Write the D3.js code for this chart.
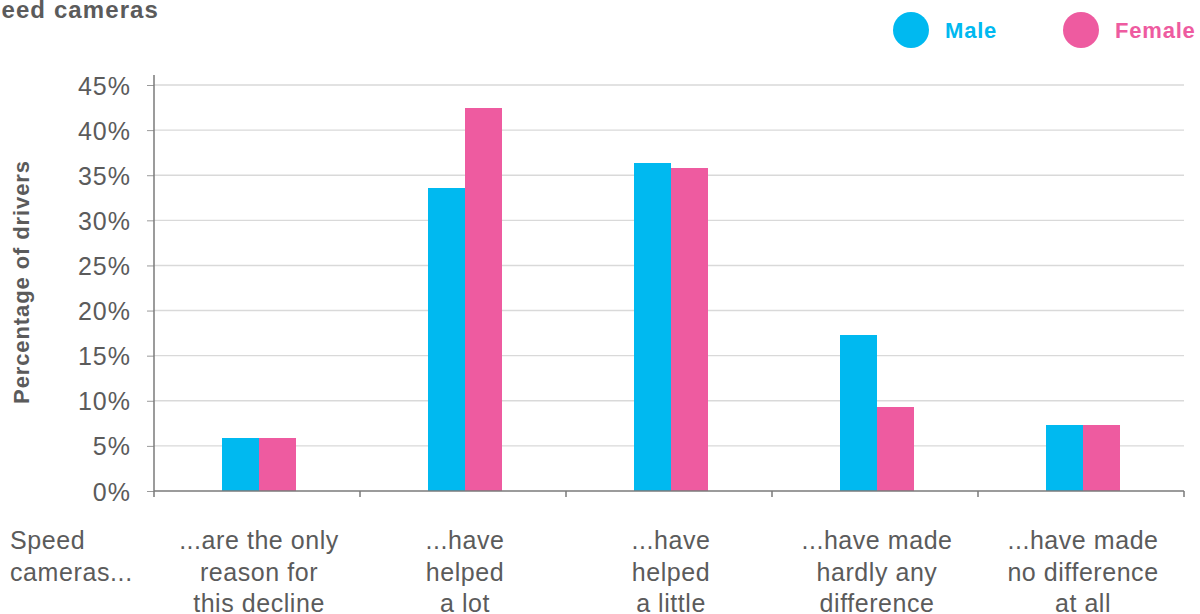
<!DOCTYPE html>
<html>
<head>
<meta charset="utf-8">
<script src="https://cdn.jsdelivr.net/npm/d3@7"></script>
<style>
  html, body { margin: 0; padding: 0; background: #fff; }
  svg { display: block; font-family: "Liberation Sans", Arial, Helvetica, sans-serif; }
</style>
</head>
<body>
<svg id="chart" width="1200" height="614"></svg>
<script>
// Share of drivers by view on speed cameras, split by gender
const categories = [
  ["...are the only", "reason for", "this decline"],
  ["...have", "helped", "a lot"],
  ["...have", "helped", "a little"],
  ["...have made", "hardly any", "difference"],
  ["...have made", "no difference", "at all"]
];
const seriesNames = ["Male", "Female"];
const maleValues = [5.9, 33.6, 36.4, 17.3, 7.3];
const femaleValues = [5.9, 42.5, 35.8, 9.3, 7.3];
const yTicks = [0, 5, 10, 15, 20, 25, 30, 35, 40, 45];
const colors = { Male: "#00B9F0", Female: "#EE5BA0" };

const textGrey = "#5b5b5b";
const svg = d3.select("#chart");
const margin = { left: 154, right: 1184, top: 75, bottom: 491 };

const x0 = d3.scaleBand()
  .domain(d3.range(categories.length))
  .range([margin.left, margin.right])
  .paddingInner(0)
  .paddingOuter(0);

const x1 = d3.scaleBand()
  .domain(seriesNames)
  .range([0, x0.bandwidth()])
  .paddingInner(0)
  .paddingOuter(1.82);

const y = d3.scaleLinear()
  .domain([0, 45])
  .range([margin.bottom, 85]);

// Horizontal gridlines
svg.append("g")
  .selectAll("line")
  .data(yTicks.filter(d => d > 0))
  .join("line")
  .attr("x1", margin.left)
  .attr("x2", margin.right)
  .attr("y1", d => y(d))
  .attr("y2", d => y(d))
  .attr("stroke", "#d9d9d9")
  .attr("stroke-width", 1.4);

// Bars (pairs drawn edge to edge without a seam)
const data = categories.map((c, i) => ({ i, Male: maleValues[i], Female: femaleValues[i] }));
const groups = svg.append("g")
  .attr("shape-rendering", "crispEdges")
  .selectAll("g")
  .data(data)
  .join("g")
  .attr("transform", d => `translate(${Math.round(x0(d.i) + 1.5)},0)`);

groups.selectAll("rect")
  .data(d => seriesNames.map(s => ({ s, v: d[s] })))
  .join("rect")
  .attr("x", d => Math.round(x1(d.s)))
  .attr("width", d => Math.round(x1(d.s) + x1.bandwidth()) - Math.round(x1(d.s)))
  .attr("y", d => y(d.v))
  .attr("height", d => y(0) - y(d.v))
  .attr("fill", d => colors[d.s]);

// Y axis
const yAxis = svg.append("g")
  .attr("transform", `translate(${margin.left},0)`)
  .call(d3.axisLeft(y).tickValues(yTicks).tickFormat(d => d + "%").tickSizeOuter(0).tickSize(7).tickPadding(16));
yAxis.select(".domain").remove();
yAxis.selectAll(".tick line").attr("stroke", "#9a9a9a");
yAxis.selectAll("text")
  .attr("fill", textGrey)
  .style("font-size", "25px")
  .style("letter-spacing", "1px")
  .attr("dy", "0.36em");
svg.append("line")
  .attr("x1", margin.left).attr("x2", margin.left)
  .attr("y1", margin.top).attr("y2", margin.bottom)
  .attr("stroke", "#7a7a7a").attr("stroke-width", 1.5);

// X axis baseline with band boundary ticks
svg.append("line")
  .attr("x1", margin.left).attr("x2", margin.right)
  .attr("y1", margin.bottom).attr("y2", margin.bottom)
  .attr("stroke", "#7a7a7a").attr("stroke-width", 1.5);
const bounds = d3.range(categories.length + 1).map(i => i < categories.length ? x0(i) : margin.right);
svg.append("g").selectAll("line")
  .data(bounds)
  .join("line")
  .attr("x1", d => d).attr("x2", d => d)
  .attr("y1", margin.bottom).attr("y2", margin.bottom + 6)
  .attr("stroke", "#7a7a7a").attr("stroke-width", 1.5);

// Category labels
const lineYs = [549, 581, 612];
svg.append("g").selectAll("text")
  .data(categories)
  .join("text")
  .attr("text-anchor", "middle")
  .attr("fill", textGrey)
  .style("font-size", "25px")
  .style("letter-spacing", "0.55px")
  .each(function(lines, i) {
    d3.select(this).selectAll("tspan")
      .data(lines)
      .join("tspan")
      .attr("x", x0(i) + x0.bandwidth() / 2 + 2)
      .attr("y", (d, j) => lineYs[j])
      .text(d => d);
  });

// Row heading for the category labels
svg.append("text")
  .attr("fill", textGrey)
  .style("font-size", "25px")
  .style("letter-spacing", "0.6px")
  .selectAll("tspan")
  .data(["Speed", "cameras..."])
  .join("tspan")
  .attr("x", 10)
  .attr("y", (d, j) => lineYs[j])
  .text(d => d);

// Y axis title
svg.append("text")
  .attr("transform", "translate(29,282) rotate(-90)")
  .attr("text-anchor", "middle")
  .attr("fill", textGrey)
  .style("font-size", "22px")
  .style("font-weight", "bold")
  .style("letter-spacing", "0.9px")
  .text("Percentage of drivers");

// Chart title
svg.append("text")
  .attr("x", 159)
  .attr("y", 18)
  .attr("text-anchor", "end")
  .attr("fill", textGrey)
  .style("font-size", "24px")
  .style("font-weight", "bold")
  .style("letter-spacing", "1.1px")
  .text("speed cameras");

// Legend
const legend = svg.append("g").selectAll("g")
  .data(seriesNames)
  .join("g")
  .attr("transform", (d, i) => `translate(${911 + i * 170},30)`);
legend.append("circle")
  .attr("r", 18)
  .attr("fill", d => colors[d]);
legend.append("text")
  .attr("x", 34)
  .attr("dy", "0.36em")
  .attr("fill", d => colors[d])
  .style("font-size", "22px")
  .style("font-weight", "bold")
  .style("letter-spacing", "0.8px")
  .text(d => d);
</script>
</body>
</html>
